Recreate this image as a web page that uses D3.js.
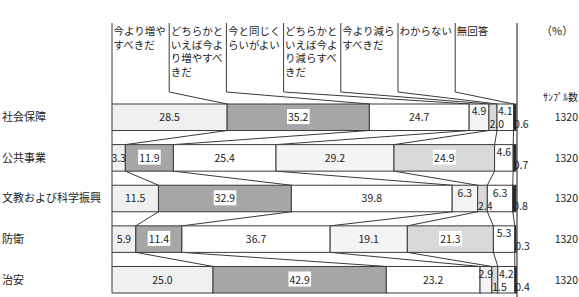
<!DOCTYPE html>
<html>
<head>
<meta charset="utf-8">
<script src="https://cdn.jsdelivr.net/npm/d3@7"></script>
<style>
  body { margin: 0; background: #fff; }
  text { font-family: "Noto Sans CJK JP", sans-serif; fill: #222; }
</style>
</head>
<body>
<div class="main"></div>
<script>
const width = 579;
const height = 297;

// rows
const categories = ["社会保障", "公共事業", "文教および科学振興", "防衛", "治安"];
const shakaiHosho = [28.5, 35.2, 24.7, 4.9, 2.0, 4.1, 0.6];
const kokyoJigyo = [3.3, 11.9, 25.4, 29.2, 24.9, 4.6, 0.7];
const bunkyo = [11.5, 32.9, 39.8, 6.3, 2.4, 6.3, 0.8];
const boei = [5.9, 11.4, 36.7, 19.1, 21.3, 5.3, 0.3];
const chian = [25.0, 42.9, 23.2, 2.9, 1.5, 4.2, 0.4];
const samples = [1320, 1320, 1320, 1320, 1320];

// answer headers, already broken into lines like the original
const answers = [
  ["今より増や", "すべきだ"],
  ["どちらかと", "いえば今よ", "り増やすべ", "きだ"],
  ["今と同じく", "らいがよい"],
  ["どちらかと", "いえば今よ", "り減らすべ", "きだ"],
  ["今より減ら", "すべきだ"],
  ["わからない"],
  ["無回答"]
];

const rows = [shakaiHosho, kokyoJigyo, bunkyo, boei, chian];
const fills = ["#f0f0f0", "#a6a6a6", "#ffffff", "#f4f4f4", "#d9d9d9", "#ffffff", "#262626"];

const x = d3.scaleLinear().domain([0, 100]).range([112, 516]);
const y = d3.scaleBand().domain(categories).range([104, 293]).paddingInner(0.347);
const hx = d3.scaleBand().domain(d3.range(answers.length)).range([112, 512.4]);

// cumulative start of every segment
const starts = rows.map(r => [0, ...d3.cumsum(r)]);

const svg = d3.select(".main").append("svg")
  .attr("width", width)
  .attr("height", height);

const lineColor = "#3a3a3a";

// header column lines, bent down to the first bar
const topY = 23, bendY = 92;
answers.forEach((a, i) => {
  svg.append("polyline")
    .attr("points", [[hx(i), topY], [hx(i), bendY], [x(starts[0][i]), y(categories[0])]].join(" "))
    .attr("fill", "none")
    .attr("stroke", lineColor)
    .attr("stroke-width", 1);
  svg.append("text")
    .attr("font-size", 10.5)
    .selectAll("tspan")
    .data(a)
    .join("tspan")
      .attr("x", hx(i) + 1.5)
      .attr("y", (_, j) => 35 + j * 13.5)
      .text(d => d);
});

// connectors between bars
for (let r = 0; r < rows.length - 1; r++) {
  for (let k = 0; k < rows[r].length; k++) {
    svg.append("line")
      .attr("x1", x(starts[r][k]))
      .attr("y1", y(categories[r]) + y.bandwidth())
      .attr("x2", x(starts[r + 1][k]))
      .attr("y2", y(categories[r + 1]))
      .attr("stroke", lineColor)
      .attr("stroke-width", 1);
  }
}

// right border
svg.append("line")
  .attr("x1", x(100) + 1).attr("x2", x(100) + 1)
  .attr("y1", topY).attr("y2", height)
  .attr("stroke", "#8a8a8a")
  .attr("stroke-width", 2);

rows.forEach((r, ri) => {
  const cat = categories[ri];
  const top = y(cat);
  const g = svg.append("g");

  g.selectAll("rect")
    .data(r)
    .join("rect")
      .attr("x", (d, i) => x(starts[ri][i]))
      .attr("y", top)
      .attr("width", (d, i) => x(starts[ri][i] + d) - x(starts[ri][i]))
      .attr("height", y.bandwidth())
      .attr("fill", (d, i) => fills[i])
      .attr("stroke", lineColor)
      .attr("stroke-width", 1);

  r.forEach((v, i) => {
    const x0 = x(starts[ri][i]);
    const x1 = x(starts[ri][i] + v);
    let tx, ty, anchor;
    if (i >= 3 && v < 7) {
      // small tail segments: alternate above / below
      if (i % 2 === 1) { tx = (x0 + x1) / 2; ty = top + 7.5; anchor = "middle"; }
      else { tx = x0 + 0.5; ty = top + 20.5; anchor = "start"; }
    } else {
      tx = (x0 + x1) / 2; ty = top + y.bandwidth() / 2; anchor = "middle";
    }
    const t = g.append("text")
      .attr("x", tx)
      .attr("y", ty)
      .attr("dy", "0.36em")
      .attr("text-anchor", anchor)
      .attr("font-size", 10.5)
      .text(v.toFixed(1));
    if (anchor === "middle" && ty === top + y.bandwidth() / 2 && (i === 1 || i === 4)) {
      const bb = t.node().getBBox();
      g.insert("rect", "text")
        .attr("x", bb.x - 1).attr("y", bb.y)
        .attr("width", bb.width + 2).attr("height", bb.height)
        .attr("fill", "#fff");
    }
  });

  // row label and sample size
  svg.append("text")
    .attr("x", 2)
    .attr("y", top + y.bandwidth() / 2)
    .attr("dy", "0.36em")
    .attr("font-size", 11)
    .text(cat);
  svg.append("text")
    .attr("x", 578)
    .attr("y", top + y.bandwidth() / 2)
    .attr("dy", "0.36em")
    .attr("text-anchor", "end")
    .attr("font-size", 10.5)
    .text(samples[ri]);
});

svg.append("text")
  .attr("x", 541)
  .attr("y", 35)
  .attr("font-size", 11)
  .text("（%）");

svg.append("text")
  .attr("x", 578)
  .attr("y", 97)
  .attr("dy", "0.36em")
  .attr("text-anchor", "end")
  .attr("font-size", 10)
  .text("ｻﾝﾌﾟﾙ数");
</script>
</body>
</html>
